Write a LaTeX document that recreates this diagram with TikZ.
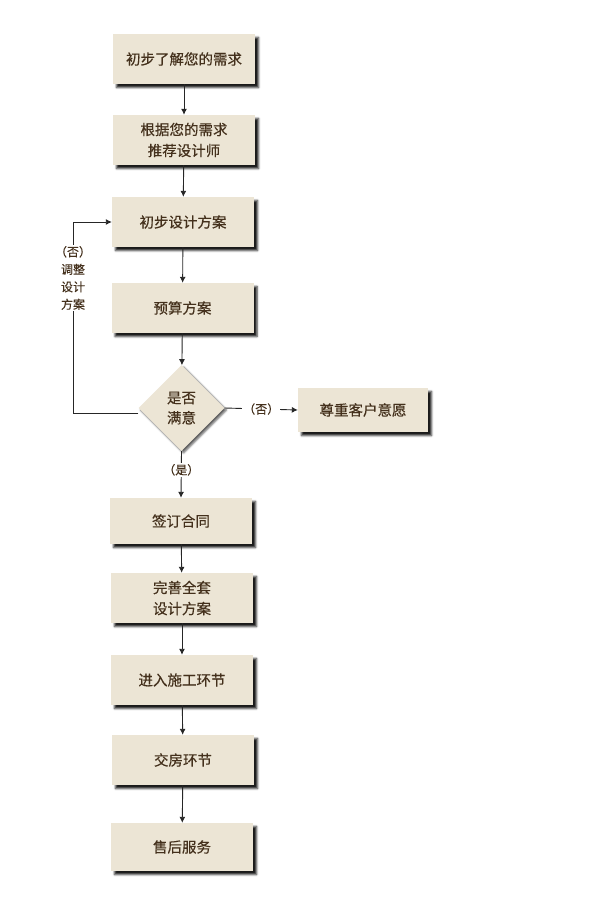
\documentclass[tikz,border=0pt]{standalone}
\usepackage{fontspec}
\newfontfamily\cjk[FakeBold=0.4]{Noto Sans CJK SC}
\usetikzlibrary{shapes.geometric,shadows.blur,arrows.meta}
\definecolor{boxfill}{RGB}{236,229,213}
\definecolor{boxtext}{RGB}{68,48,28}
\begin{document}
\begin{tikzpicture}[x=1pt,y=-1pt,
  stepbox/.style={rectangle, fill=boxfill, text=boxtext, minimum width=142pt, minimum height=50pt, align=center,
    font=\cjk\fontsize{14.5}{21}\selectfont, blur shadow={shadow xshift=3.5pt, shadow yshift=-3.5pt, shadow blur radius=2pt, shadow opacity=90}},
  choice/.style={diamond, aspect=1, fill=boxfill, text=boxtext, minimum width=86pt, minimum height=86pt, inner sep=0pt, align=center,
    font=\cjk\fontsize{14.5}{20}\selectfont, blur shadow={shadow xshift=2pt, shadow yshift=-2pt, shadow blur radius=2pt, shadow opacity=65}},
  tag/.style={text=boxtext, fill=white, inner sep=1pt, align=center, font=\cjk\fontsize{12}{17.5}\selectfont},
  flow/.style={draw=black!85, line width=0.9pt, -{Latex[length=6pt,width=6pt]}}]
\useasboundingbox (0,0) rectangle (595,912);

\node[stepbox] (need) at (184,59) {初步了解您的需求};
\node[stepbox] (pick) at (184,140) {根据您的需求\\推荐设计师};
\node[stepbox] (draft) at (183,222) {初步设计方案};
\node[stepbox] (budget) at (182.5,308) {预算方案};
\node[choice] (ok) at (181.5,408) {是否\\满意};
\node[stepbox, minimum width=130pt, minimum height=44pt] (respect) at (363,410) {尊重客户意愿};
\node[stepbox, minimum height=46pt] (sign) at (181,521) {签订合同};
\node[stepbox] (full) at (182,598) {完善全套\\设计方案};
\node[stepbox] (build) at (182,680) {进入施工环节};
\node[stepbox] (hand) at (183,760) {交房环节};
\node[stepbox, minimum height=48pt] (after) at (182,847) {售后服务};
\node[tag] (adjust) at (73,278) {（否）\\调整\\设计\\方案};

\draw[flow] (need) -- (pick);
\draw[flow] (pick) -- (draft);
\draw[flow] (draft) -- (budget);
\draw[flow] (budget) -- (ok);
\draw[flow] (ok.east) -- node[tag]{（否）} (respect.west);
\draw[flow] (ok.south) -- node[tag, pos=0.4]{（是）} (sign.north);
\draw[draw=black!85, line width=0.9pt] ([yshift=-5pt]ok.west) -| (adjust.south);
\draw[flow] (adjust.north) |- (draft.west);
\draw[flow] (sign) -- (full);
\draw[flow] (full) -- (build);
\draw[flow] (build) -- (hand);
\draw[flow] (hand) -- (after);
\end{tikzpicture}
\end{document}
